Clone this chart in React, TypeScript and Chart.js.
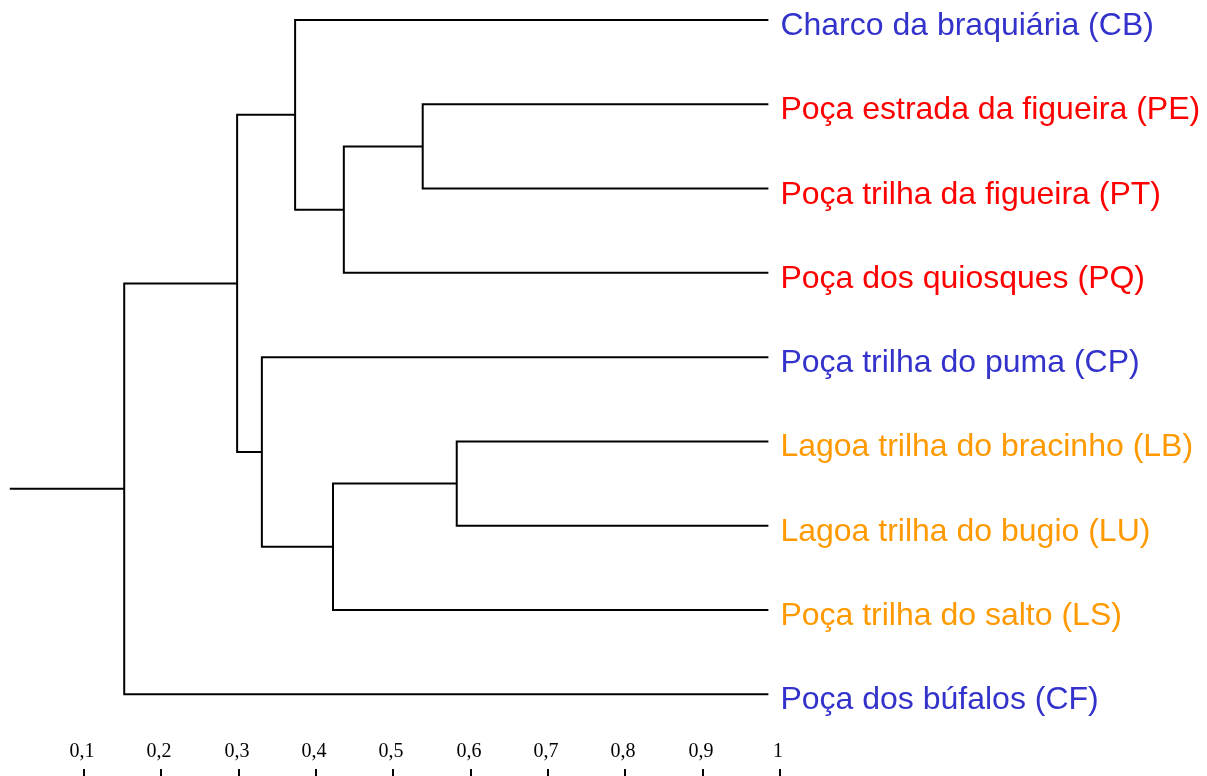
import React, { useEffect, useRef } from "react";
import { Chart, registerables } from "chart.js";

Chart.register(...registerables);

// Leaves (top to bottom)
const leafLabels = [
  "Charco da braquiária (CB)",
  "Poça estrada da figueira (PE)",
  "Poça trilha da figueira (PT)",
  "Poça dos quiosques (PQ)",
  "Poça trilha do puma (CP)",
  "Lagoa trilha do bracinho (LB)",
  "Lagoa trilha do bugio (LU)",
  "Poça trilha do salto (LS)",
  "Poça dos búfalos (CF)",
];
const leafColors = [
  "#3333CC",
  "#FF0000",
  "#FF0000",
  "#FF0000",
  "#3333CC",
  "#FF9900",
  "#FF9900",
  "#FF9900",
  "#3333CC",
];
const leafSimilarity = 0.985;

// Merges: node ids 0..8 are leaves, each merge creates node 9, 10, ...
const mergeLeft = [1, 9, 0, 5, 12, 4, 11, 15];
const mergeRight = [2, 3, 10, 6, 7, 13, 14, 8];
const mergeSimilarity = [0.538, 0.436, 0.373, 0.582, 0.422, 0.33, 0.298, 0.152];
const rootStemEnd = 0.004;

// Similarity axis
const tickValues = [0.1, 0.2, 0.3, 0.4, 0.5, 0.6, 0.7, 0.8, 0.9, 1];
const tickLabels = ["0,1", "0,2", "0,3", "0,4", "0,5", "0,6", "0,7", "0,8", "0,9", "1"];

function buildSegments() {
  const nx: number[] = [];
  const ny: number[] = [];
  leafLabels.forEach((_, i) => {
    nx.push(leafSimilarity);
    ny.push(i);
  });
  const segs: { x: number; y: number }[][] = [];
  mergeLeft.forEach((l, k) => {
    const r = mergeRight[k];
    const h = mergeSimilarity[k];
    segs.push([
      { x: nx[l], y: ny[l] },
      { x: h, y: ny[l] },
      { x: h, y: ny[r] },
      { x: nx[r], y: ny[r] },
    ]);
    nx.push(h);
    ny.push((ny[l] + ny[r]) / 2);
  });
  const root = nx.length - 1;
  segs.push([
    { x: nx[root], y: ny[root] },
    { x: rootStemEnd, y: ny[root] },
  ]);
  return segs;
}

const labelPlugin = {
  id: "dendroLabels",
  afterDatasetsDraw(chart: any) {
    const { ctx, scales, chartArea } = chart;
    const xs = scales.x;
    const ys = scales.y;
    ctx.save();
    // leaf labels
    ctx.font = '32px "Liberation Sans", Arial, sans-serif';
    ctx.textAlign = "left";
    ctx.textBaseline = "alphabetic";
    leafLabels.forEach((lab, i) => {
      ctx.fillStyle = leafColors[i];
      ctx.fillText(lab, xs.getPixelForValue(leafSimilarity) + 12, ys.getPixelForValue(i) + 15);
    });
    // similarity axis (labels above tick marks)
    ctx.font = '20px "Liberation Serif", "Times New Roman", serif';
    ctx.textAlign = "center";
    ctx.fillStyle = "#000";
    ctx.strokeStyle = "#000";
    ctx.lineWidth = 2;
    tickValues.forEach((v, i) => {
      const px = Math.round(xs.getPixelForValue(v));
      ctx.fillText(tickLabels[i], px - 2, chartArea.bottom - 19);
      ctx.beginPath();
      ctx.moveTo(px, chartArea.bottom - 7);
      ctx.lineTo(px, chartArea.bottom);
      ctx.stroke();
    });
    ctx.restore();
  },
};

export default function App() {
  const ref = useRef<HTMLCanvasElement | null>(null);
  useEffect(() => {
    if (!ref.current) return;
    const segs = buildSegments();
    const chart = new Chart(ref.current, {
      type: "scatter",
      data: {
        datasets: segs.map((s) => ({
          data: s,
          showLine: true,
          borderColor: "#000",
          borderWidth: 2,
          pointRadius: 0,
          pointHoverRadius: 0,
          fill: false,
          tension: 0,
          borderJoinStyle: "miter" as const,
          borderCapStyle: "butt" as const,
        })),
      },
      options: {
        responsive: false,
        animation: false,
        layout: { padding: 0 },
        plugins: { legend: { display: false }, tooltip: { enabled: false } },
        scales: {
          x: { type: "linear", min: -0.00863, max: 1.5522, display: false },
          y: { type: "linear", min: -0.2373, max: 8.969, reverse: true, display: false },
        },
      },
      plugins: [labelPlugin],
    });
    return () => chart.destroy();
  }, []);
  return (
    <div style={{ position: "absolute", left: 0, top: 0, width: 1207, height: 776, background: "#fff" }}>
      <canvas ref={ref} width={1207} height={776} />
    </div>
  );
}
